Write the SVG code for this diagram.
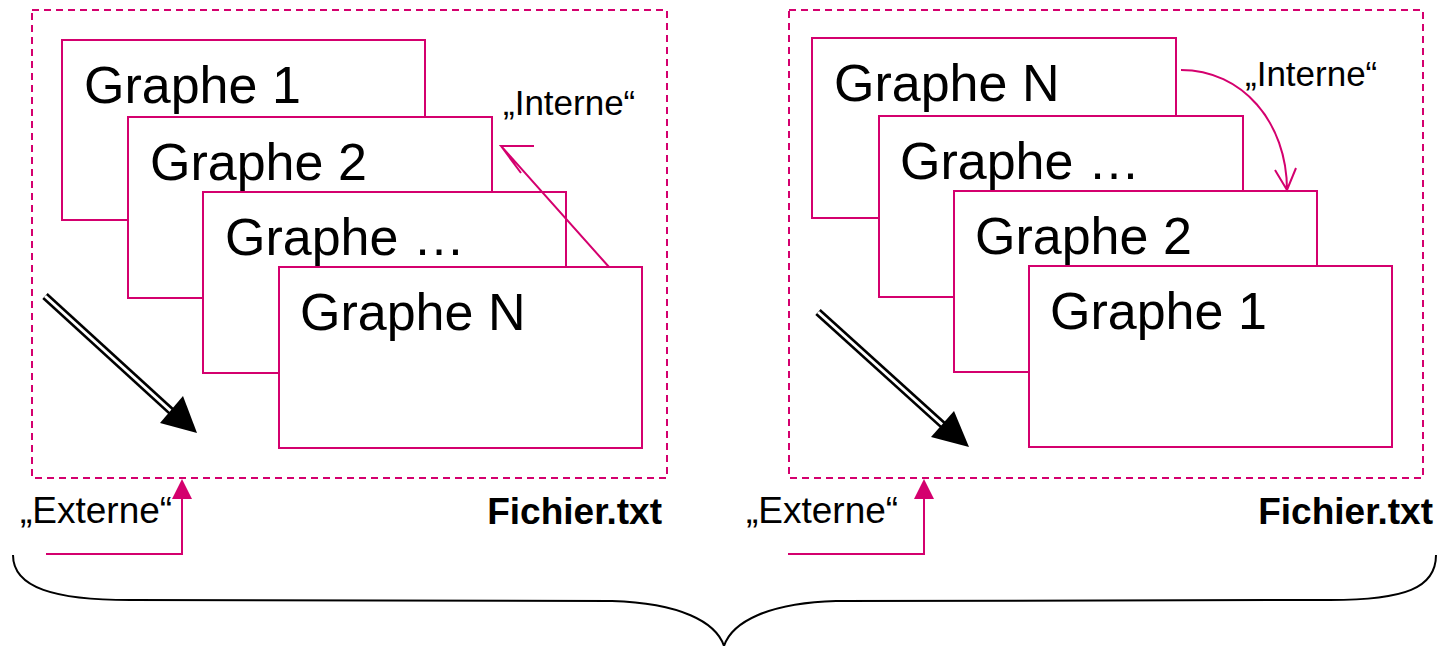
<svg xmlns="http://www.w3.org/2000/svg" width="1440" height="646" viewBox="0 0 1440 646">
<defs>
<style>
.frame{fill:none;stroke:#d4006e;stroke-width:2;stroke-dasharray:7 5}
.card{fill:#fff;stroke:#d4006e;stroke-width:2}
.lbl{font-family:"Liberation Sans",Arial,sans-serif;font-size:52px;fill:#000}
.note{font-family:"Liberation Sans",Arial,sans-serif;font-size:35px;fill:#000}
.ext{font-family:"Liberation Sans",Arial,sans-serif;font-size:37px;fill:#000}
.file{font-family:"Liberation Sans",Arial,sans-serif;font-size:37px;font-weight:bold;fill:#000}
.mg{fill:none;stroke:#d4006e;stroke-width:2}
.dbl1{fill:none;stroke:#000;stroke-width:8}
.dbl2{fill:none;stroke:#fff;stroke-width:3}
</style>
</defs>
<rect width="1440" height="646" fill="#fff"/>
<g id="file-left">
<rect class="frame" x="32" y="10" width="635" height="468"/>
<text class="file" x="662" y="524" text-anchor="end">Fichier.txt</text>
</g>
<g id="file-right">
<rect class="frame" x="789" y="10" width="634" height="468"/>
<text class="file" x="1433" y="524" text-anchor="end">Fichier.txt</text>
</g>
<g id="left-g1"><rect class="card" x="62" y="40" width="363" height="180"/><text class="lbl" x="84" y="103">Graphe 1</text></g>
<g id="left-g2"><rect class="card" x="128" y="117" width="364" height="181"/><text class="lbl" x="150" y="180">Graphe 2</text></g>
<g id="left-g3"><rect class="card" x="203" y="192" width="363" height="181"/><text class="lbl" x="225" y="255">Graphe …</text></g>
<g id="left-gN"><rect class="card" x="279" y="267" width="363" height="181"/><text class="lbl" x="300" y="330">Graphe N</text></g>
<g id="right-gN"><rect class="card" x="812" y="38" width="364" height="180"/><text class="lbl" x="834" y="101">Graphe N</text></g>
<g id="right-g3"><rect class="card" x="879" y="116" width="364" height="181"/><text class="lbl" x="900" y="179">Graphe …</text></g>
<g id="right-g2"><rect class="card" x="954" y="191" width="363" height="181"/><text class="lbl" x="975" y="254">Graphe 2</text></g>
<g id="right-g1"><rect class="card" x="1029" y="266" width="363" height="181"/><text class="lbl" x="1050" y="329">Graphe 1</text></g>
<g id="labels">
<text class="note" x="503" y="115">„Interne“</text>
<text class="note" x="1245" y="86">„Interne“</text>
<text class="ext" x="20" y="523">„Externe“</text>
<text class="ext" x="746" y="523">„Externe“</text>
</g>
<g id="connectors">
<path class="mg" d="M609,267 L501,146 L534,146 M501,146 L521,173"/>
<path class="mg" d="M1181,70 C1242,70 1287,122 1287,190 M1275,170 L1287,190 L1296,168"/>
<path class="dbl1" d="M45,296 L172,412"/>
<path class="dbl2" d="M45,296 L173,413"/>
<polygon points="197,433 160,423 183,396" fill="#000"/>
<path class="dbl1" d="M818,312 L944,426"/>
<path class="dbl2" d="M818,312 L945,427"/>
<polygon points="969,447 931,437 954,411" fill="#000"/>
<path class="mg" d="M46,554 L182,554 L182,497"/>
<polygon points="182,479 172,499 192,499" fill="#d4006e"/>
<path class="mg" d="M788,554 L924,554 L924,497"/>
<polygon points="924,479 914,499 934,499" fill="#d4006e"/>
<path fill="none" stroke="#000" stroke-width="2" d="M13,555 C13,588 55,600 130,600 L612,601 C680,603 716,622 724,646 C732,622 768,603 836,601 L1330,600 C1405,600 1436,588 1436,555"/>
</g>
</svg>
